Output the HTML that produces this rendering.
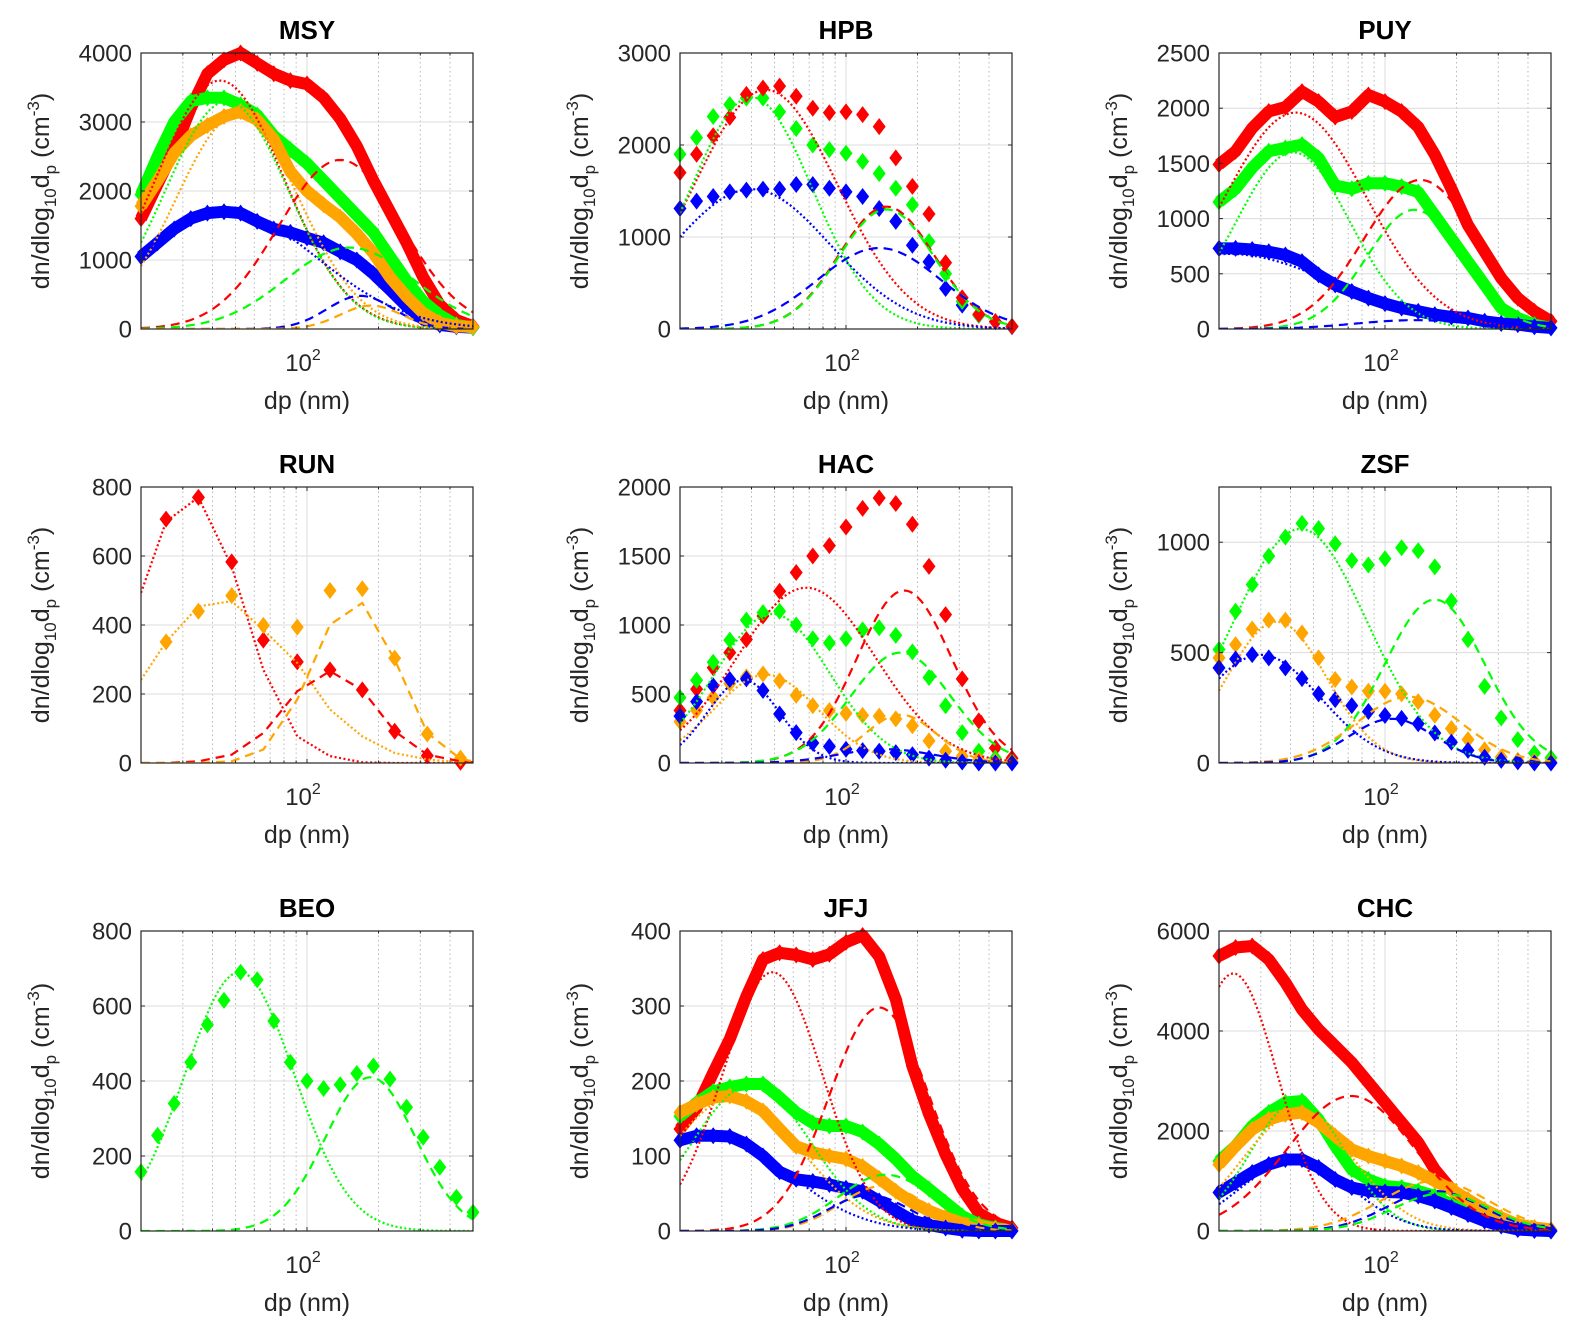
<!DOCTYPE html>
<html><head><meta charset="utf-8"><style>
html,body{margin:0;padding:0;background:#fff;}
svg{display:block;font-family:"Liberation Sans",Arial,sans-serif;}
</style></head><body>
<svg id="fig" width="1579" height="1337" viewBox="0 0 1579 1337" xmlns="http://www.w3.org/2000/svg"></svg>
<script>
// ---- shared diameter grid (nm) ----
const dpGrid = [20,23.49,27.59,32.41,38.07,44.72,52.53,61.70,72.47,85.13,100,117.46,137.97,162.07,190.37,223.61,262.66,308.52,362.39,425.67,500];

// ---- MSY ----
const MSY_red    = [1600,2100,2600,3200,3700,3900,4000,3850,3700,3600,3550,3350,3050,2650,2150,1700,1250,750,350,130,40];
const MSY_green  = [1950,2500,3000,3300,3350,3350,3250,3100,2800,2600,2400,2150,1900,1650,1400,1050,700,400,200,60,20];
const MSY_orange = [1780,2150,2550,2800,2950,3080,3150,3030,2750,2280,2000,1800,1620,1380,1100,750,470,230,90,40,30];
const MSY_blue   = [1050,1250,1450,1600,1680,1700,1680,1560,1450,1400,1320,1250,1120,1000,800,570,330,140,60,30,20];
// modes: [peak, Dg(nm), log10 width]
const MSY_red_aitken=[3600,43,0.27], MSY_green_aitken=[3300,46,0.26], MSY_orange_aitken=[3100,51,0.26], MSY_blue_aitken=[1700,46,0.38];
const MSY_red_accum=[2450,138,0.26], MSY_green_accum=[1180,151,0.27], MSY_blue_accum=[480,168,0.14], MSY_orange_accum=[340,186,0.13];

// ---- HPB ----
const HPB_red   = [1700,1900,2100,2300,2550,2620,2640,2530,2400,2350,2360,2330,2200,1860,1550,1250,720,340,160,80,30];
const HPB_green = [1900,2080,2310,2440,2510,2510,2360,2180,2000,1950,1910,1820,1690,1530,1350,950,600,300,150,80,30];
const HPB_blue  = [1310,1390,1440,1490,1510,1520,1520,1570,1570,1530,1490,1440,1310,1170,910,730,440,260,150,80,25];
const HPB_red_aitken=[2600,46,0.3], HPB_green_aitken=[2520,40,0.256], HPB_blue_aitken=[1520,40,0.33];
const HPB_red_accum=[1330,148,0.2], HPB_green_accum=[1300,148,0.2], HPB_blue_accum=[880,138,0.26];

// ---- PUY ----
const PUY_red   = [1490,1610,1820,1970,2010,2150,2060,1920,1970,2120,2060,1970,1830,1580,1270,940,700,460,280,160,70];
const PUY_green = [1150,1270,1460,1610,1640,1670,1550,1300,1270,1320,1320,1290,1240,1030,820,610,400,190,100,40,10];
const PUY_blue  = [730,730,720,700,670,610,490,400,340,280,230,190,160,130,110,100,70,50,40,20,10];
const PUY_red_aitken=[1960,42,0.3], PUY_green_aitken=[1600,41,0.24], PUY_blue_aitken=[680,22,0.45];
const PUY_red_accum=[1350,141,0.237], PUY_green_accum=[1080,133,0.2], PUY_blue_accum=[80,133,0.25];

// ---- RUN (sparse bins) ----
const RUN_dp     = [25.5,34.9,48.2,65.5,91,125,171,234,321,443];
const RUN_red    = [707,770,583,356,293,270,212,92,21,2];
const RUN_orange = [351,440,485,399,394,500,505,304,84,14];
const RUN_line_dp = [20,25.5,34.9,48.2,65.5,91,125,171,234,321,443,500];
const RUN_red_aitken    = [493,700,770,570,270,77,20,2,0,0,0,0];
const RUN_orange_aitken = [241,351,454,469,386,290,155,77,29,10,2,1];
const RUN_red_accum     = [0,0,5,24,87,208,266,212,92,24,5,2];
const RUN_orange_accum  = [0,0,0,5,39,184,401,464,300,87,12,5];

// ---- HAC ----
const HAC_red    = [380,535,690,800,895,1065,1245,1380,1500,1575,1710,1845,1920,1880,1730,1425,1075,610,305,110,35];
const HAC_green  = [475,600,730,890,1035,1090,1100,1000,900,870,900,965,980,925,805,620,415,220,85,35,10];
const HAC_orange = [300,380,475,575,625,645,595,490,415,380,360,345,340,320,270,160,85,50,25,12,7];
const HAC_blue   = [340,445,560,605,610,525,355,220,145,120,100,90,85,75,60,35,20,7,0,0,0];
const HAC_red_aitken=[1270,68,0.29], HAC_green_aitken=[1080,49,0.24], HAC_orange_aitken=[640,46,0.22], HAC_blue_aitken=[600,37,0.153];
const HAC_red_accum=[1250,176,0.2], HAC_green_accum=[800,170,0.21], HAC_orange_accum=[350,170,0.15], HAC_blue_accum=[100,147,0.2];

// ---- ZSF ----
const ZSF_green  = [514,687,808,937,1023,1085,1062,993,917,897,925,975,961,888,733,559,347,204,106,45,23];
const ZSF_orange = [476,536,607,647,647,589,476,378,344,325,325,313,278,216,156,106,60,27,12,8,5];
const ZSF_blue   = [431,471,491,476,431,382,313,287,260,233,215,202,178,136,94,57,26,12,5,0,0];
const ZSF_green_aitken=[1060,44,0.28], ZSF_orange_aitken=[640,35,0.21], ZSF_blue_aitken=[490,30,0.25];
const ZSF_green_accum=[740,162,0.21], ZSF_orange_accum=[300,126,0.22], ZSF_blue_accum=[200,107,0.18];

// ---- BEO ----
const BEO_green = [158,255,340,450,550,615,690,670,560,450,400,380,390,420,440,405,330,250,170,90,50];
const BEO_green_aitken=[690,52,0.23], BEO_green_accum=[410,185,0.19];

// ---- JFJ ----
const JFJ_red    = [136,164,211,256,313,362,371,368,362,369,385,394,366,309,220,156,102,56,24,11,4];
const JFJ_green  = [153,171,186,192,196,196,178,158,144,140,140,132,116,96,73,56,38,20,9,4,1];
const JFJ_orange = [158,169,178,180,173,160,136,113,105,100,96,86,70,53,38,27,18,11,7,3,1];
const JFJ_blue   = [121,127,127,126,116,100,79,69,66,62,57,53,40,27,14,8,4,1,0,0,0];
const JFJ_red_aitken=[345,49,0.21], JFJ_green_aitken=[195,40,0.25], JFJ_orange_aitken=[178,34,0.28], JFJ_blue_aitken=[127,28,0.31];
const JFJ_red_accum=[298,138,0.21], JFJ_green_accum=[75,147,0.2], JFJ_orange_accum=[60,143,0.18], JFJ_blue_accum=[48,125,0.17];

// ---- CHC ----
const CHC_red    = [5500,5670,5700,5430,4970,4430,4030,3700,3370,2970,2570,2170,1770,1230,830,570,330,200,100,30,0];
const CHC_green  = [1400,1700,2100,2370,2570,2600,2230,1700,1230,1030,900,870,800,700,530,400,270,170,70,20,0];
const CHC_orange = [1330,1700,2030,2230,2330,2370,2170,1900,1630,1500,1400,1300,1170,1000,830,630,430,270,130,70,30];
const CHC_blue   = [770,970,1170,1330,1430,1430,1270,1030,870,800,780,770,700,600,470,330,200,100,30,10,0];
const CHC_red_aitken=[5150,23,0.186], CHC_green_aitken=[2600,43,0.2], CHC_orange_aitken=[2350,43,0.236], CHC_blue_aitken=[1430,42,0.23];
const CHC_red_accum=[2700,72,0.27], CHC_orange_accum=[1000,162,0.226], CHC_blue_accum=[800,162,0.2], CHC_green_accum=[750,173,0.2];

// ---------------- rendering ----------------
const NS='http://www.w3.org/2000/svg';
const svg=document.getElementById('fig');
const COL={red:'#ff0000',green:'#00ff00',blue:'#0000ff',orange:'#ffa500'};
const LEFTS=[141,680,1219], W=332;
const ROWS=[[53,329],[487,763],[931,1231]];

function mk(tag,parent){const e=document.createElementNS(NS,tag);(parent||svg).appendChild(e);return e;}

const panels=[
 {id:'MSY',c:0,r:0,ymax:4000,ticks:[0,1000,2000,3000,4000],dense:true,
  series:[['blue',MSY_blue],['red',MSY_red],['green',MSY_green],['orange',MSY_orange]],
  modes:[['red',MSY_red_aitken,'dot'],['green',MSY_green_aitken,'dot'],['orange',MSY_orange_aitken,'dot'],['blue',MSY_blue_aitken,'dot'],
         ['red',MSY_red_accum,'dash'],['green',MSY_green_accum,'dash'],['blue',MSY_blue_accum,'dash'],['orange',MSY_orange_accum,'dash']]},
 {id:'HPB',c:1,r:0,ymax:3000,ticks:[0,1000,2000,3000],
  series:[['blue',HPB_blue],['green',HPB_green],['red',HPB_red]],
  modes:[['red',HPB_red_aitken,'dot'],['green',HPB_green_aitken,'dot'],['blue',HPB_blue_aitken,'dot'],
         ['red',HPB_red_accum,'dash'],['green',HPB_green_accum,'dash'],['blue',HPB_blue_accum,'dash']]},
 {id:'PUY',c:2,r:0,ymax:2500,ticks:[0,500,1000,1500,2000,2500],dense:true,
  series:[['red',PUY_red],['green',PUY_green],['blue',PUY_blue]],
  modes:[['red',PUY_red_aitken,'dot'],['green',PUY_green_aitken,'dot'],['blue',PUY_blue_aitken,'dot'],
         ['red',PUY_red_accum,'dash'],['green',PUY_green_accum,'dash'],['blue',PUY_blue_accum,'dash']]},
 {id:'RUN',c:0,r:1,ymax:800,ticks:[0,200,400,600,800],run:true},
 {id:'HAC',c:1,r:1,ymax:2000,ticks:[0,500,1000,1500,2000],
  series:[['red',HAC_red],['green',HAC_green],['orange',HAC_orange],['blue',HAC_blue]],
  modes:[['red',HAC_red_aitken,'dot'],['green',HAC_green_aitken,'dot'],['orange',HAC_orange_aitken,'dot'],['blue',HAC_blue_aitken,'dot'],
         ['red',HAC_red_accum,'dash'],['green',HAC_green_accum,'dash'],['orange',HAC_orange_accum,'dash'],['blue',HAC_blue_accum,'dash']]},
 {id:'ZSF',c:2,r:1,ymax:1250,ticks:[0,500,1000],
  series:[['green',ZSF_green],['orange',ZSF_orange],['blue',ZSF_blue]],
  modes:[['green',ZSF_green_aitken,'dot'],['orange',ZSF_orange_aitken,'dot'],['blue',ZSF_blue_aitken,'dot'],
         ['green',ZSF_green_accum,'dash'],['orange',ZSF_orange_accum,'dash'],['blue',ZSF_blue_accum,'dash']]},
 {id:'BEO',c:0,r:2,ymax:800,ticks:[0,200,400,600,800],
  series:[['green',BEO_green]],
  modes:[['green',BEO_green_aitken,'dot'],['green',BEO_green_accum,'dash']]},
 {id:'JFJ',c:1,r:2,ymax:400,ticks:[0,100,200,300,400],dense:true,
  series:[['red',JFJ_red],['green',JFJ_green],['orange',JFJ_orange],['blue',JFJ_blue]],
  modes:[['red',JFJ_red_aitken,'dot'],['green',JFJ_green_aitken,'dot'],['orange',JFJ_orange_aitken,'dot'],['blue',JFJ_blue_aitken,'dot'],
         ['red',JFJ_red_accum,'dash'],['green',JFJ_green_accum,'dash'],['orange',JFJ_orange_accum,'dash'],['blue',JFJ_blue_accum,'dash']]},
 {id:'CHC',c:2,r:2,ymax:6000,ticks:[0,2000,4000,6000],dense:true,
  series:[['red',CHC_red],['green',CHC_green],['orange',CHC_orange],['blue',CHC_blue]],
  modes:[['red',CHC_red_aitken,'dot'],['green',CHC_green_aitken,'dot'],['orange',CHC_orange_aitken,'dot'],['blue',CHC_blue_aitken,'dot'],
         ['red',CHC_red_accum,'dash'],['orange',CHC_orange_accum,'dash'],['blue',CHC_blue_accum,'dash'],['green',CHC_green_accum,'dash']]}
];

const LX0=Math.log10(20), LXR=Math.log10(25);
const minorTicks=[30,40,50,60,70,80,90,200,300,400];

panels.forEach(p=>{
  const L=LEFTS[p.c], T=ROWS[p.r][0], B=ROWS[p.r][1], H=B-T;
  const xs=d=>L+(Math.log10(d)-LX0)/LXR*W;
  const ys=v=>B-v/p.ymax*H;
  const g=mk('g');
  
  
  const cp=mk('clipPath',g); cp.setAttribute('id','clip'+p.id);
  const cr=mk('rect',cp); cr.setAttribute('x',L);cr.setAttribute('y',T);cr.setAttribute('width',W);cr.setAttribute('height',H);
  const grid=mk('g',g);
  
  
  minorTicks.forEach(m=>{const l=mk('line',grid);const x=xs(m);
    l.setAttribute('x1',x);l.setAttribute('x2',x);l.setAttribute('y1',T);l.setAttribute('y2',B);
    l.setAttribute('stroke','#b8b8b8');l.setAttribute('stroke-width','1');l.setAttribute('stroke-dasharray','1.5,3');});
  {const l=mk('line',grid);const x=xs(100);l.setAttribute('x1',x);l.setAttribute('x2',x);l.setAttribute('y1',T);l.setAttribute('y2',B);l.setAttribute('stroke','#dcdcdc');}
  p.ticks.forEach(t=>{if(t===0)return;const l=mk('line',grid);const y=ys(t);
    l.setAttribute('x1',L);l.setAttribute('x2',L+W);l.setAttribute('y1',y);l.setAttribute('y2',y);l.setAttribute('stroke','#dcdcdc');});
  const dg=mk('g',g);
  
  
  function diamond(parent,cx,cy,col){
    const pg=mk('polygon',parent);
    pg.setAttribute('points',`${cx},${cy-8.5} ${cx+6.5},${cy} ${cx},${cy+8.5} ${cx-6.5},${cy}`);
    pg.setAttribute('fill',col);
    return pg;
  }
  function polyline(parent,pts,col,style){
    const pl=mk('polyline',parent);
    pl.setAttribute('points',pts.map(q=>q[0].toFixed(1)+','+q[1].toFixed(1)).join(' '));
    pl.setAttribute('fill','none');pl.setAttribute('stroke',col);pl.setAttribute('stroke-width','2.2');
    pl.setAttribute('stroke-dasharray',style==='dot'?'2,2.5':'9,6');
    pl.setAttribute('clip-path','url(#clip'+p.id+')');
    return pl;
  }
  if(p.run){
    [['red',RUN_red],['orange',RUN_orange]].forEach(([c,vals])=>{
      const sg=mk('g',dg);
      
      
      vals.forEach((v,i)=>diamond(sg,xs(RUN_dp[i]),ys(v),COL[c]));
    });
    [['red',RUN_red_aitken,'dot'],['orange',RUN_orange_aitken,'dot'],['red',RUN_red_accum,'dash'],['orange',RUN_orange_accum,'dash']].forEach(([c,vals,st])=>{
      const pl=polyline(dg,vals.map((v,i)=>[xs(RUN_line_dp[i]),ys(v)]),COL[c],st);
      
      
    });
  } else {
    p.series.forEach(([c,vals])=>{
      const sg=mk('g',dg);
      
      
      if(p.dense){
        const band=mk('polyline',sg);
        band.setAttribute('points',vals.map((v,i)=>xs(dpGrid[i]).toFixed(1)+','+ys(v).toFixed(1)).join(' '));
        band.setAttribute('fill','none');band.setAttribute('stroke',COL[c]);band.setAttribute('stroke-width','12');
        band.setAttribute('stroke-linejoin','round');
        
        
      }
      vals.forEach((v,i)=>diamond(sg,xs(dpGrid[i]),ys(v),COL[c]));
    });
    p.modes.forEach(([c,m,st])=>{
      const pts=[];
      for(let k=0;k<=120;k++){const ld=LX0+LXR*k/120;const d=Math.pow(10,ld);
        const z=(ld-Math.log10(m[1]))/m[2];pts.push([xs(d),ys(m[0]*Math.exp(-0.5*z*z))]);}
      const pl=polyline(dg,pts,COL[c],st);
      
      
    });
  }
  const fr=mk('rect',g);fr.setAttribute('x',L);fr.setAttribute('y',T);fr.setAttribute('width',W);fr.setAttribute('height',H);
  fr.setAttribute('fill','none');fr.setAttribute('stroke','#262626');fr.setAttribute('stroke-width','1.2');
  
  
  const tk=mk('g',g);tk.setAttribute('stroke','#262626');
  p.ticks.forEach(t=>{const y=ys(t);[[L,L+4],[L+W,L+W-4]].forEach(([a,b])=>{const l=mk('line',tk);l.setAttribute('x1',a);l.setAttribute('x2',b);l.setAttribute('y1',y);l.setAttribute('y2',y);});});
  minorTicks.concat([100]).forEach(m=>{const x=xs(m);const len=m===100?4:2.5;[[B,B-len],[T,T+len]].forEach(([a,b])=>{const l=mk('line',tk);l.setAttribute('x1',x);l.setAttribute('x2',x);l.setAttribute('y1',a);l.setAttribute('y2',b);});});
  p.ticks.forEach(t=>{const tx=mk('text',g);tx.setAttribute('x',L-9);tx.setAttribute('y',ys(t)+8.5);
    tx.setAttribute('text-anchor','end');tx.setAttribute('font-size','24');tx.setAttribute('fill','#262626');tx.textContent=t;
    
    });
  const xt=mk('text',g);xt.setAttribute('x',xs(100)-4);xt.setAttribute('y',B+42);xt.setAttribute('text-anchor','middle');
  xt.setAttribute('font-size','24');xt.setAttribute('fill','#262626');
  xt.innerHTML='10<tspan font-size="16" dy="-11">2</tspan>';
  
  
  const xl=mk('text',g);xl.setAttribute('x',L+W/2);xl.setAttribute('y',B+80);xl.setAttribute('text-anchor','middle');
  xl.setAttribute('font-size','25');xl.setAttribute('fill','#262626');xl.textContent='dp (nm)';
  
  
  const ti=mk('text',g);ti.setAttribute('x',L+W/2);ti.setAttribute('y',T-14);ti.setAttribute('text-anchor','middle');
  ti.setAttribute('font-size','26');ti.setAttribute('font-weight','bold');ti.setAttribute('fill','#000');ti.textContent=p.id;
  
  
  const yl=mk('text',g);const yx=L-92, yy=T+H/2;
  yl.setAttribute('transform',`translate(${yx},${yy}) rotate(-90)`);yl.setAttribute('text-anchor','middle');
  yl.setAttribute('font-size','25');yl.setAttribute('fill','#262626');
  yl.innerHTML='dn/dlog<tspan font-size="17" dy="7">10</tspan><tspan dy="-7">d</tspan><tspan font-size="17" dy="7">p</tspan><tspan dy="-7"> (cm</tspan><tspan font-size="17" dy="-10">-3</tspan><tspan dy="10">)</tspan>';
  
  
});
</script>
</body></html>
